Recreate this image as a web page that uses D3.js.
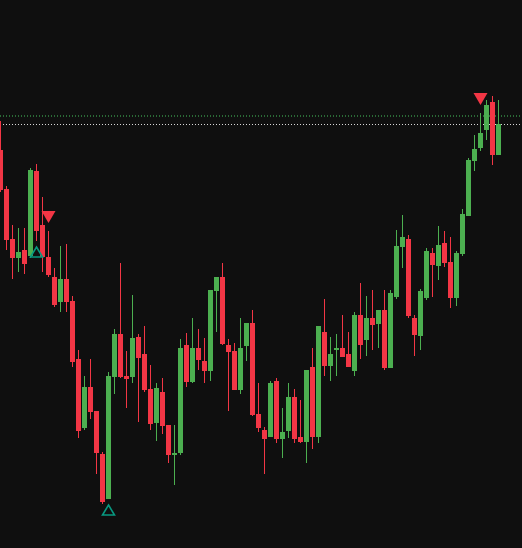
<!DOCTYPE html>
<html>
<head>
<meta charset="utf-8">
<script src="https://cdn.jsdelivr.net/npm/d3@7"></script>
<style>
  html, body { margin: 0; padding: 0; background: #0f0f0f; }
  svg { display: block; }
</style>
</head>
<body>
<div id="chart"></div>
<script>
// candle values, one entry per bar
const opens  = [450,411,361,342,350,344,429,375,343,323,298,321,299,241,172,213,189,146,101,223,
                266,224,223,263,246,211,177,208,175,145,147,255,218,252,239,229,309,323,255,249,
                210,254,277,186,170,163,219,161,169,203,163,158,233,163,268,234,250,252,246,229,
                285,260,282,276,290,232,303,353,361,282,264,302,347,334,357,338,302,346,384,439,
                452,470,498,445];
const highs  = [479,414,375,372,372,432,436,403,369,332,354,356,304,250,224,241,189,148,228,271,
                337,249,305,266,274,235,217,222,175,175,261,267,282,271,262,310,323,337,261,257,
                282,277,290,217,173,219,222,192,217,211,200,230,252,274,301,263,266,285,268,288,
                317,304,310,290,310,310,370,385,365,285,311,352,352,374,369,363,349,391,442,465,
                487,500,504,500];
const lows   = [408,350,321,328,326,342,359,328,323,293,288,288,233,162,170,181,126,96,101,206,
                222,192,217,178,208,170,159,166,137,115,145,213,217,230,217,219,268,255,189,210,
                206,239,184,168,126,163,157,142,162,157,157,137,151,157,224,219,224,243,233,224,
                241,244,250,252,230,232,301,332,282,244,250,300,303,320,333,292,294,344,384,429,
                449,460,435,445];
const closes = [410,360,342,348,336,430,369,343,325,295,321,298,238,169,213,188,147,98,224,266,
                223,221,262,242,210,176,212,174,145,147,252,218,252,240,229,310,323,256,248,210,
                252,277,185,172,161,217,161,168,203,161,158,230,163,274,234,246,252,243,233,285,
                255,282,275,290,232,307,354,363,284,265,309,349,335,355,337,302,347,386,440,451,
                467,495,445,476];

// signal markers (bar index)
const sellSignals = [8, 80];
const buySignals  = [6, 18];

// horizontal price levels
const levelLines = [
  { price: 484,   color: '#2a6a36', width: 2 },
  { price: 475.5, color: '#d8d8d8', width: 1 }
];

const WIDTH = 522;
const HEIGHT = 548;
const UP = '#4caf50';
const DOWN = '#f23645';
const TEAL = '#089981';

const bars = opens.map((o, i) => ({ i, o, h: highs[i], l: lows[i], c: closes[i] }));

const x = d3.scaleLinear().domain([0, bars.length - 1]).range([0.5, 0.5 + 6 * (bars.length - 1)]);
const y = d3.scaleLinear().domain([52, 600]).range([HEIGHT, 0]);

const svg = d3.select('#chart').append('svg')
  .attr('width', WIDTH)
  .attr('height', HEIGHT);

svg.append('rect').attr('width', WIDTH).attr('height', HEIGHT).attr('fill', '#0f0f0f');

svg.selectAll('line.level').data(levelLines).enter().append('line')
  .attr('class', 'level')
  .attr('x1', 0).attr('x2', WIDTH)
  .attr('y1', d => y(d.price)).attr('y2', d => y(d.price))
  .attr('stroke', d => d.color)
  .attr('stroke-width', d => d.width)
  .attr('stroke-dasharray', '1,2');

const candle = svg.selectAll('g.candle').data(bars).enter().append('g')
  .attr('class', 'candle');

candle.append('line')
  .attr('x1', d => x(d.i)).attr('x2', d => x(d.i))
  .attr('y1', d => y(d.h)).attr('y2', d => y(d.l))
  .attr('stroke', d => d.c >= d.o ? UP : DOWN)
  .attr('stroke-width', 1);

candle.append('rect')
  .attr('x', d => x(d.i) - 2.5)
  .attr('width', 5)
  .attr('y', d => y(Math.max(d.o, d.c)))
  .attr('height', d => Math.max(1, Math.abs(y(d.o) - y(d.c))))
  .attr('fill', d => d.c >= d.o ? UP : DOWN);

// sell markers above the high
svg.selectAll('path.sell').data(sellSignals).enter().append('path')
  .attr('class', 'sell')
  .attr('d', i => {
    const cx = x(i), top = y(highs[i]) - 20;
    return `M${cx - 7},${top}L${cx + 7},${top}L${cx},${top + 12}Z`;
  })
  .attr('fill', DOWN);

// buy markers below the low
svg.selectAll('path.buy').data(buySignals).enter().append('path')
  .attr('class', 'buy')
  .attr('d', i => {
    const cx = x(i), top = y(lows[i]) + 6;
    return `M${cx},${top}L${cx + 6},${top + 10}L${cx - 6},${top + 10}Z`;
  })
  .attr('fill', 'none')
  .attr('stroke', TEAL)
  .attr('stroke-width', 1.6);
</script>
</body>
</html>
